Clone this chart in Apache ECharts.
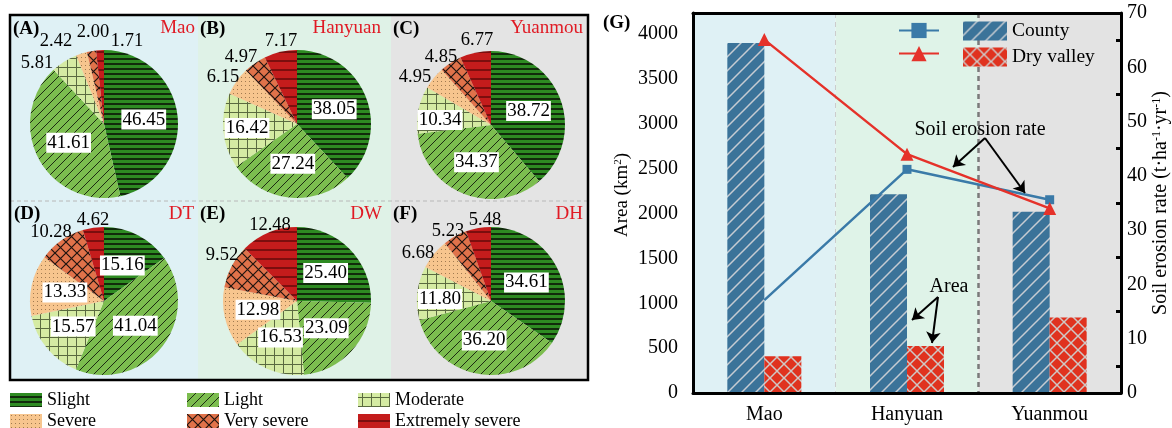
<!DOCTYPE html>
<html><head><meta charset="utf-8">
<script src="https://cdn.jsdelivr.net/npm/echarts@6/dist/echarts.min.js"></script>
<style>html,body{margin:0;padding:0;background:#fff}#c{width:1172px;height:428px}</style>
</head><body><div id="c"></div>
<script>
// ---------- data ----------
const levels = ['Slight', 'Light', 'Moderate', 'Severe', 'Very severe', 'Extremely severe'];
const pieMao      = [46.45, 41.61, 5.81, 2.42, 2.00, 1.71];
const pieHanyuan  = [38.05, 27.24, 16.42, 6.15, 4.97, 7.17];
const pieYuanmou  = [38.72, 34.37, 10.34, 4.95, 4.85, 6.77];
const pieDT       = [15.16, 41.04, 15.57, 13.33, 10.28, 4.62];
const pieDW       = [25.40, 23.09, 16.53, 12.98, 9.52, 12.48];
const pieDH       = [34.61, 36.20, 11.80, 6.68, 5.23, 5.48];

const categories    = ['Mao', 'Hanyuan', 'Yuanmou'];
const countyArea    = [3900, 2215, 2020];
const dryValleyArea = [410, 525, 841];
const countyRate    = [17.1, 41.2, 35.6];
const dryValleyRate = [65.1, 44.0, 34.0];

// ---------- layout (label placement for small slices, px) ----------
const labelPosA = { 2: [37, 63], 3: [56, 41], 4: [93, 32], 5: [127, 41] };
const labelPosB = { 2: [247, 128], 3: [223, 77], 4: [241, 57], 5: [281, 41] };
const labelPosC = { 2: [440, 120], 3: [415, 77], 4: [441, 57], 5: [477, 40] };
const labelPosD = { 4: [51, 232], 5: [93, 220] };
const labelPosE = { 4: [222, 255], 5: [270, 225] };
const labelPosF = { 2: [440, 299], 3: [418, 253], 4: [448, 231], 5: [485, 220] };

// ---------- styles ----------
const F = "'Liberation Serif', 'Times New Roman', 'DejaVu Serif', serif";
function pat(w, h, bg, draw) {
  const c = document.createElement('canvas');
  c.width = w; c.height = h;
  const g = c.getContext('2d');
  g.fillStyle = bg; g.fillRect(0, 0, w, h);
  draw(g, w, h);
  return { image: c, repeat: 'repeat' };
}
function line(g, pts, color, lw) {
  g.strokeStyle = color; g.lineWidth = lw; g.beginPath();
  for (let i = 0; i < pts.length; i += 4) { g.moveTo(pts[i], pts[i+1]); g.lineTo(pts[i+2], pts[i+3]); }
  g.stroke();
}
const diag = (s) => [-1, s+1, s+1, -1, -s-1, s+1, s+1, -s-1, -1, 2*s+1, 2*s+1, -1];
const cross = (s) => [0, 0, s, s, 0, s, s, 0];
const pats = [
  pat(8, 5, '#2e8b22', (g) => line(g, [0, 4, 8, 4], '#0c1a08', 1.7)),
  pat(9, 9, '#7cbd4f', (g, w) => line(g, diag(w), '#1c2a12', 1)),
  pat(9, 9, '#d5eba3', (g) => line(g, [4.5, 0, 4.5, 9, 0, 4.5, 9, 4.5], '#5a6a40', 1)),
  pat(4, 4, '#f7c58e', (g) => { g.fillStyle = '#a07a50'; g.fillRect(1, 1, 1, 1); }),
  pat(11, 11, '#e0724a', (g, w) => line(g, cross(w), '#1e1410', 1.2)),
  pat(9, 9, '#c41c1c', (g) => line(g, [0, 7, 9, 7], '#4a0606', 1.2))
];
const countyPat = pat(14, 14, '#3b7399', (g, w) => line(g, diag(w), '#c6ccd2', 1.5));
const dryPat = pat(14, 14, '#e0321f', (g, w) => line(g, cross(w), '#cfc8c6', 1.5));

const insideLabel = { show: true, position: 'inside', formatter: p => p.value.toFixed(2),
  fontFamily: F, fontSize: 19, color: '#000', backgroundColor: '#fff', padding: [1, 1, 0, 1], lineHeight: 19 };
const outsideLabel = { show: true, position: 'outside', formatter: p => p.value.toFixed(2),
  fontFamily: F, fontSize: 18.5, color: '#000', distanceToLabelLine: 1 };

function pieSeries(vals, center, nInside, posTable) {
  return {
    type: 'pie', radius: 74, center: center, startAngle: 90, clockwise: true,
    avoidLabelOverlap: false, silent: true, animation: false,
    labelLine: { show: false, length: 6, length2: 0 },
    labelLayout: (params) => {
      const p = posTable[params.dataIndex];
      if (p) return { x: p[0], y: p[1], align: 'center', verticalAlign: 'middle', hideOverlap: false };
      return { hideOverlap: false };
    },
    data: vals.map((v, i) => ({ name: levels[i], value: v,
      itemStyle: { color: pats[i] }, label: i < nInside ? insideLabel : outsideLabel }))
  };
}

const titleStyle = { fontSize: 19, fontFamily: F, color: '#000', fontWeight: 'bold' };
function ptitle(t, left, top) { return { text: t, left: left, top: top, padding: 0, textStyle: titleStyle }; }
function ntitle(t, rightEdge, top) {
  return { text: t, right: 1172 - rightEdge, top: top, padding: 0,
    textStyle: { fontSize: 19, fontFamily: F, color: '#e01a24', fontWeight: 'normal' } };
}

const pieLegendBase = { orient: 'vertical', top: 391, height: 40, itemWidth: 32, itemHeight: 14, itemGap: 3, padding: 0,
  icon: 'rect', textStyle: { fontFamily: F, fontSize: 18, color: '#000', lineHeight: 16 }, selectedMode: false };

const axisFont = { fontFamily: F, fontSize: 20, color: '#000' };
const blk = { color: '#000', width: 3 };

const chart = echarts.init(document.getElementById('c'));
chart.setOption({
  animation: false,
  title: [
    ptitle('(A)', 13, 20), ntitle('Mao', 195, 19),
    ptitle('(B)', 200, 20), ntitle('Hanyuan', 381, 19),
    ptitle('(C)', 393, 20), ntitle('Yuanmou', 583, 19),
    ptitle('(D)', 14, 205), ntitle('DT', 194, 205),
    ptitle('(E)', 200, 205), ntitle('DW', 382, 205),
    ptitle('(F)', 393, 205), ntitle('DH', 583, 205),
    ptitle('(G)', 603, 14)
  ],
  graphic: [
    { type: 'rect', shape: { x: 10, y: 15, width: 188, height: 186 }, style: { fill: '#dff1f5' }, silent: true, z: -10 },
    { type: 'rect', shape: { x: 198, y: 15, width: 193, height: 186 }, style: { fill: '#dff2e7' }, silent: true, z: -10 },
    { type: 'rect', shape: { x: 391, y: 15, width: 197, height: 186 }, style: { fill: '#e4e4e4' }, silent: true, z: -10 },
    { type: 'rect', shape: { x: 10, y: 201, width: 188, height: 179 }, style: { fill: '#dff1f5' }, silent: true, z: -10 },
    { type: 'rect', shape: { x: 198, y: 201, width: 193, height: 179 }, style: { fill: '#dff2e7' }, silent: true, z: -10 },
    { type: 'rect', shape: { x: 391, y: 201, width: 197, height: 179 }, style: { fill: '#e4e4e4' }, silent: true, z: -10 },
    { type: 'line', shape: { x1: 10, y1: 201, x2: 588, y2: 201 }, style: { stroke: '#b8b8b8', lineWidth: 1, lineDash: [4, 3] }, silent: true, z: -9 },
    { type: 'rect', shape: { x: 10, y: 15, width: 578, height: 365 }, style: { fill: 'none', stroke: '#000', lineWidth: 2.5 }, silent: true, z: 50 },
    { type: 'text', x: 980, y: 130, style: { text: 'Soil erosion rate', fontFamily: F, fontSize: 20, fill: '#000', align: 'center', verticalAlign: 'middle' }, silent: true, z: 100 },
    { type: 'text', x: 949, y: 287, style: { text: 'Area', fontFamily: F, fontSize: 20, fill: '#000', align: 'center', verticalAlign: 'middle' }, silent: true, z: 100 }
  ],
  legend: [
    Object.assign({ left: 10, data: ['Slight', 'Severe'] }, pieLegendBase),
    Object.assign({ left: 187, data: ['Light', 'Very severe'] }, pieLegendBase),
    Object.assign({ left: 358, data: ['Moderate', 'Extremely severe'] }, pieLegendBase),
    { left: 898, top: 21, orient: 'vertical', itemWidth: 40, itemHeight: 19, itemGap: 6, padding: 0,
      data: ['County rate', 'Dry valley rate'], formatter: () => '', selectedMode: false },
    { left: 963, top: 21, orient: 'vertical', itemWidth: 44, itemHeight: 19, itemGap: 6, padding: 0, icon: 'rect',
      data: ['County', 'Dry valley'], textStyle: { fontFamily: F, fontSize: 19.5, color: '#000' }, selectedMode: false }
  ],
  grid: { left: 693, right: 50, top: 13, bottom: 35, containLabel: false },
  xAxis: [
    { type: 'category', data: categories, position: 'bottom', axisLine: { lineStyle: blk },
      axisTick: { alignWithLabel: true, inside: true, length: 11, lineStyle: blk },
      axisLabel: Object.assign({ margin: 12 }, axisFont), splitLine: { show: false }, z: 5 },
    { type: 'category', data: categories, position: 'bottom', axisLine: { show: false },
      axisTick: { inside: true, length: 5, lineStyle: blk }, axisLabel: { show: false },
      splitArea: { show: true, areaStyle: { color: ['#dff1f5', '#dff3e8', '#e3e3e3'] } },
      splitLine: { show: true, lineStyle: { color: ['transparent', '#cccccc', 'transparent', 'transparent'], type: [5, 4], width: 1 } } },
    { type: 'category', data: categories, position: 'bottom', axisLine: { show: false }, axisTick: { show: false },
      axisLabel: { show: false },
      splitLine: { show: true, lineStyle: { color: ['transparent', 'transparent', '#7a7a7a', 'transparent'], type: [5, 4], width: 2.5 } } },
    { type: 'category', data: categories, position: 'top', axisLine: { lineStyle: blk }, axisTick: { show: false },
      axisLabel: { show: false }, splitLine: { show: false } }
  ],
  yAxis: [
    { type: 'value', position: 'left', min: 0, max: 4235, interval: 500,
      name: 'Area (km{s|2})', nameLocation: 'middle', nameGap: 61, nameRotate: 90,
      nameTextStyle: { fontFamily: F, fontSize: 19, color: '#000', padding: [0, 0, 0, 16],
        rich: { s: { fontFamily: F, fontSize: 11, verticalAlign: 'top', lineHeight: 11 } } },
      axisLine: { show: true, lineStyle: blk }, axisTick: { inside: true, length: 10, lineStyle: blk },
      axisLabel: Object.assign({ margin: 15, showMaxLabel: false, formatter: v => String(v) }, axisFont), splitLine: { show: false }, z: 5 },
    { type: 'value', position: 'right', min: 0, max: 70, interval: 10,
      name: 'Soil erosion rate (t·ha{s|-1}·yr{s|-1})', nameLocation: 'middle', nameGap: 30, nameRotate: 90,
      nameTextStyle: { fontFamily: F, fontSize: 20, color: '#000',
        rich: { s: { fontFamily: F, fontSize: 12, verticalAlign: 'top', lineHeight: 12 } } },
      axisLine: { show: true, lineStyle: blk }, axisTick: { inside: true, length: 9, lineStyle: blk },
      minorTick: { show: true, splitNumber: 2, length: 5, lineStyle: blk },
      axisLabel: Object.assign({ margin: 6, formatter: v => String(v) }, axisFont), splitLine: { show: false }, z: 5 },
    { type: 'value', position: 'left', min: 0, max: 4235, interval: 250,
      axisLine: { show: false }, axisTick: { inside: true, length: 5, lineStyle: blk },
      axisLabel: { show: false }, splitLine: { show: false } }
  ],
  series: [
    pieSeries(pieMao, [104, 124], 2, labelPosA),
    pieSeries(pieHanyuan, [297, 124], 3, labelPosB),
    pieSeries(pieYuanmou, [491, 125], 3, labelPosC),
    pieSeries(pieDT, [104, 301], 4, labelPosD),
    pieSeries(pieDW, [297, 301], 4, labelPosE),
    pieSeries(pieDH, [491, 301], 3, labelPosF),
    { name: 'County', type: 'bar', xAxisIndex: 0, yAxisIndex: 0, data: countyArea, barWidth: 37, barGap: '0%',
      itemStyle: { color: countyPat }, silent: true },
    { name: 'Dry valley', type: 'bar', xAxisIndex: 0, yAxisIndex: 0, data: dryValleyArea, barWidth: 37, barGap: '0%',
      itemStyle: { color: dryPat }, silent: true },
    { name: 'County rate', type: 'line', xAxisIndex: 0, yAxisIndex: 1,
      data: countyRate.map((v, i) => i === 0 ? { value: v, symbol: 'none' } : v),
      symbol: 'rect', symbolSize: 9, lineStyle: { color: '#3a7aa8', width: 2.5 }, itemStyle: { color: '#3a7aa8' }, silent: true, z: 4 },
    { name: 'Dry valley rate', type: 'line', xAxisIndex: 0, yAxisIndex: 1, data: dryValleyRate,
      symbol: 'triangle', symbolSize: 13, lineStyle: { color: '#e5322a', width: 2.5 }, itemStyle: { color: '#e5322a' }, silent: true, z: 4,
      markLine: { silent: true, symbol: ['none', 'arrow'], symbolSize: 11, label: { show: false },
        lineStyle: { color: '#000', width: 2, type: 'solid' },
        data: [
          [{ x: 985, y: 138 }, { x: 953, y: 167 }],
          [{ x: 985, y: 138 }, { x: 1025, y: 193 }],
          [{ x: 938, y: 297 }, { x: 912, y: 320 }],
          [{ x: 938, y: 297 }, { x: 932, y: 343 }]
        ] } }
  ]
});
</script></body></html>
